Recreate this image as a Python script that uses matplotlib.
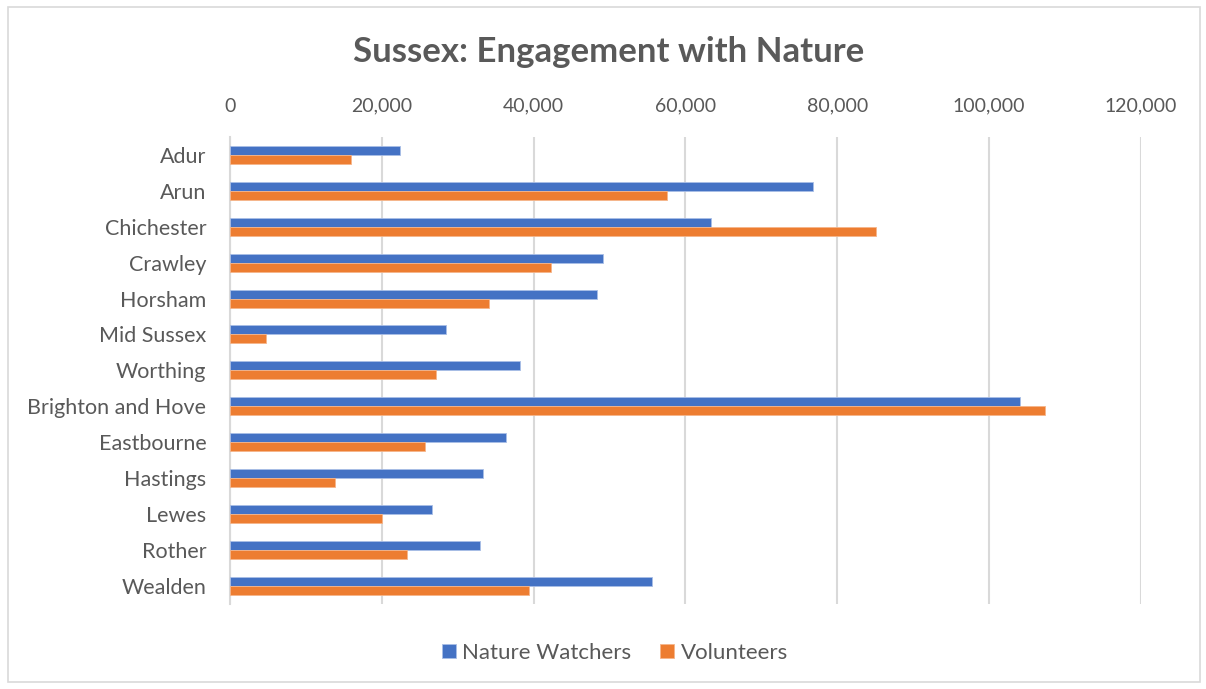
import matplotlib
matplotlib.use("Agg")
import numpy as np
from matplotlib import pyplot as plt
from matplotlib.patches import Rectangle
from matplotlib.ticker import FuncFormatter

districts = ["Adur", "Arun", "Chichester", "Crawley", "Horsham", "Mid Sussex",
             "Worthing", "Brighton and Hove", "Eastbourne", "Hastings", "Lewes",
             "Rother", "Wealden"]
nature_watchers = [22400, 76800, 63400, 49200, 48300, 28400,
                   38200, 104100, 36300, 33300, 26600, 32900, 55600]
volunteers = [15900, 57500, 85100, 42300, 34100, 4700,
              27100, 107400, 25700, 13800, 20000, 23300, 39400]
x_ticks = [0, 20000, 40000, 60000, 80000, 100000, 120000]

blue = "#4472C4"
orange = "#ED7D31"
text_col = "#595959"
grid_col = "#D9D9D9"

plt.rcParams['font.family'] = ['Lato', 'DejaVu Sans']

fig = plt.figure(figsize=(12.06, 6.89), dpi=100)
ax = fig.add_axes([0.1907, 0.1234, 0.7554, 0.678])

y = np.arange(len(districts))
h = 0.25
ax.barh(y - h / 2, nature_watchers, height=h, color=blue, label="Nature Watchers",
        edgecolor="#A9BEE6", linewidth=0.6, zorder=3)
ax.barh(y + h / 2, volunteers, height=h, color=orange, label="Volunteers",
        edgecolor="#F5B58A", linewidth=0.6, zorder=3)

ax.set_ylim(len(districts) - 0.5, -0.5)
ax.set_xlim(0, 120000)
ax.set_yticks(y)
ax.set_yticklabels(districts, fontsize=15.5, color=text_col)
ax.set_xticks(x_ticks)
ax.xaxis.set_major_formatter(FuncFormatter(lambda v, p: f"{int(v):,}"))
ax.xaxis.tick_top()
ax.tick_params(axis='x', labelsize=14, labelcolor=text_col, length=0, pad=16)
ax.tick_params(axis='y', length=0, pad=17)
ax.grid(axis='x', color=grid_col, linewidth=1.5, zorder=0)
for s in ["top", "right", "bottom"]:
    ax.spines[s].set_visible(False)
ax.spines["left"].set_color(grid_col)
ax.spines["left"].set_linewidth(1.5)

fig.text(0.505, 0.925, "Sussex: Engagement with Nature", ha="center", va="center",
         fontsize=25, fontweight="bold", color=text_col)

ax.legend(loc="center", bbox_to_anchor=(0.51, 0.052), bbox_transform=fig.transFigure,
          ncol=2, frameon=False, fontsize=16, handlelength=0.6, handleheight=0.6,
          handletextpad=0.3, columnspacing=1.3, labelcolor=text_col)

fig.patches.append(Rectangle((0.007, 0.01), 0.988, 0.98, transform=fig.transFigure,
                             fill=False, edgecolor=grid_col, linewidth=1.2))

fig.savefig("out.png", dpi=100)
